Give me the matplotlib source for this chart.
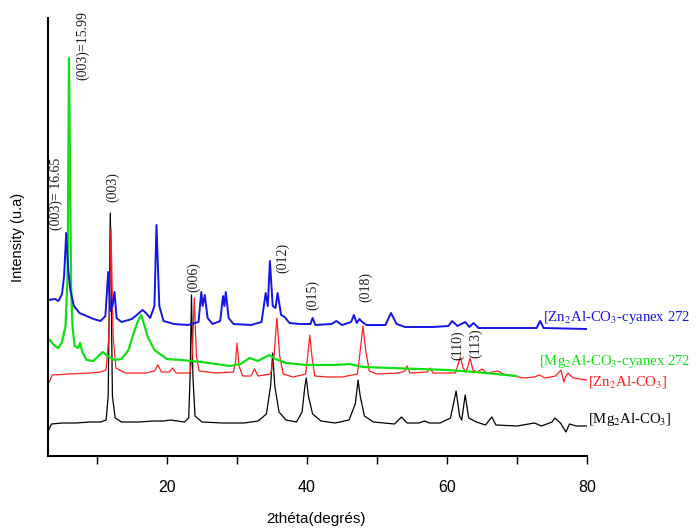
import matplotlib
matplotlib.use("Agg")
import matplotlib.pyplot as plt

# ==========================================
# DATA (2theta in degrees, intensity in a.u., offsets already included)
# ==========================================
mg_tt = [3.1, 3.5, 5, 7, 9, 10.5, 11.3, 11.6, 11.9, 12.2, 12.6, 13.5, 16, 18, 19.5,
         20.5, 21.5, 22.5, 23.1, 23.3, 23.5, 23.7, 24.0, 25, 28, 31, 33, 34.2, 34.8,
         35.1, 35.4, 36, 37, 38.5, 39.3, 39.7, 39.9, 40.2, 40.8, 42, 44, 46, 46.9,
         47.3, 47.6, 48.2, 49.5, 52.5, 53.5, 54.3, 56, 56.8, 57.5, 59, 60.5, 61.3,
         61.8, 62.1, 62.6, 63.1, 64.2, 65.5, 66.4, 67.0, 70, 72.5, 73.5, 75, 75.4,
         76.2, 77, 77.5, 78.5, 80]
mg_int = [26, 32, 33, 33, 34, 34, 36, 60, 243, 60, 38, 34, 34, 35, 35,
          36, 35, 34, 38, 80, 161, 80, 40, 34, 33, 33, 35, 42, 70,
          103, 70, 44, 36, 34, 44, 70, 78, 60, 42, 35, 33, 36, 52,
          76, 60, 40, 34, 32, 39, 33, 33, 35, 33, 33, 38, 65,
          40, 36, 61, 38, 34, 31, 39, 31, 30, 33, 30, 34, 38,
          33, 24, 32, 30, 30]

zn_tt = [3.2, 3.6, 6, 9, 10.5, 11.3, 11.7, 12.0, 12.3, 12.7, 14, 17, 18.2, 18.7, 19.2,
         20.3, 20.8, 21.3, 23.3, 23.6, 23.9, 24.2, 24.6, 27, 29.5, 29.8, 30.0, 30.3,
         30.8, 32, 32.5, 33, 34.8, 35.3, 35.7, 36.1, 36.6, 38, 39.8, 40.1, 40.4, 40.7,
         41.1, 43, 45, 47.2, 47.6, 48.0, 48.4, 48.9, 50, 53, 54.0, 54.3, 54.7, 57.2,
         57.6, 58, 61.2, 61.6, 61.9, 62.3, 62.7, 63.0, 63.3, 63.7, 64.3, 65.0, 65.7,
         67.3, 68, 71, 72.5, 73.2, 74, 75.5, 76.3, 76.7, 77.0, 77.3, 78, 80]
zn_int = [74, 81, 82, 83, 84, 86, 120, 228, 120, 88, 83, 83, 85, 91, 84,
          84, 88, 83, 83, 100, 158, 100, 85, 83, 84, 95, 113, 90,
          80, 80, 87, 80, 82, 100, 138, 100, 82, 79, 82, 100, 121, 100,
          80, 79, 79, 82, 105, 130, 105, 85, 82, 83, 85, 90, 83, 84,
          88, 83, 83, 92, 99, 88, 84, 90, 98, 86, 84, 87, 83,
          85, 82, 78, 79, 81, 78, 80, 86, 74, 80, 83, 78, 76]

mgcy_tt = [3.0, 4.0, 4.5, 5.0, 5.5, 5.8, 6.0, 6.3, 6.5, 6.8, 7.3, 7.6, 7.9, 8.5, 9.5,
           10.2, 10.8, 11.5, 12.5, 13.5, 14.5, 15.2, 15.8, 16.3, 16.8, 17.2, 18.2,
           19.0, 20, 22, 25, 27, 29, 30.5, 31.8, 33, 34.6, 35.5, 37, 40, 44, 46, 48,
           52, 56, 60, 64, 67, 69.9]
mgcy_int = [118, 110, 108, 114, 130, 180, 398, 170, 130, 110, 108, 113, 104, 96, 95,
            100, 104, 100, 96, 97, 106, 122, 134, 141, 130, 120, 106,
            102, 97, 96, 94, 92, 90, 92, 98, 95, 101, 97, 93, 91, 91, 92, 89,
            88, 87, 86, 84, 82, 80]

zncy_tt = [3.0, 4.0, 4.5, 5.0, 5.3, 5.6, 5.9, 6.2, 6.7, 7.5, 8.5, 9.5, 10.5, 11.2, 11.6,
           11.9, 12.2, 12.5, 12.8, 13.5, 15, 16.0, 16.5, 17.0, 17.6, 18.2, 18.5, 18.9,
           19.5, 21, 23, 24.5, 24.9, 25.1, 25.4, 25.8, 26.5, 27.6, 28.0, 28.2, 28.4,
           28.8, 29.5, 32, 33.5, 34.1, 34.4, 34.7, 35.1, 35.5, 35.8, 36.3, 36.8, 37.5,
           39, 40.5, 40.8, 41.2, 43.5, 44.2, 45, 46.3, 46.7, 47.1, 47.5, 47.9, 48.5,
           51.2, 52.0, 52.8, 54, 58, 60.2, 60.7, 61.5, 62.6, 63.2, 63.8, 64.5, 70,
           72.8, 73.3, 73.8, 80]
zncy_int = [156, 157, 155, 162, 180, 223, 185, 166, 150, 143, 140, 137, 135, 140, 184,
            145, 150, 164, 138, 134, 137, 143, 146, 143, 138, 150, 231, 150,
            135, 132, 131, 134, 164, 150, 161, 138, 132, 135, 160, 150, 164,
            138, 132, 131, 134, 163, 150, 195, 150, 148, 163, 141, 139, 133,
            132, 132, 138, 131, 132, 135, 131, 134, 141, 133, 137, 134, 131,
            131, 143, 132, 129, 129, 130, 135, 130, 134, 129, 133, 128, 128,
            128, 135, 128, 127]

# ==========================================
# PLOT
# ==========================================
plt.rcParams['mathtext.fontset'] = 'stix'
serif = ['Liberation Serif', 'DejaVu Serif']
sans = ['Liberation Sans', 'DejaVu Sans']

fig = plt.figure(figsize=(6.99, 5.28), dpi=100)
ax = fig.add_axes([48 / 699, 72 / 528, 539 / 699, 438 / 528])

# thicker lines for the noisy cyanex traces
ax.plot(mg_tt, mg_int, color='black', lw=0.9)
ax.plot(zn_tt, zn_int, color='#ff2020', lw=0.9)
ax.plot(mgcy_tt, mgcy_int, color='#10e010', lw=1.6)
ax.plot(zncy_tt, zncy_int, color='#1515e8', lw=1.4)

ax.set_xlim(3, 80)
ax.set_ylim(0, 438)
ax.spines['top'].set_visible(False)
ax.spines['right'].set_visible(False)
ax.spines['left'].set_linewidth(1.5)
ax.spines['bottom'].set_linewidth(1.5)
ax.set_yticks([])
ax.set_xticks([20, 40, 60, 80])
ax.set_xticks([10, 30, 50, 70], minor=True)
ax.tick_params(axis='x', which='both', direction='out', length=6, width=1, pad=11)
for lbl in ax.get_xticklabels():
    lbl.set_family(sans)
    lbl.set_fontsize(11.5)

fig.text(316 / 699, 1 - 519 / 528, '2théta(degrés)', family=sans, fontsize=11,
         ha='center', va='center')
fig.text(18 / 699, 1 - 237 / 528, 'Intensity (u.a)', family=sans, fontsize=10.5,
         rotation=90, ha='center', va='center')

# peak annotations (rotated)
peak_notes = [('(003)= 16.65', 4.17, 262), ('(003)=15.99', 7.97, 411),
              ('(003)', 12.17, 269), ('(006)', 23.83, 179), ('(012)', 36.54, 198),
              ('(015)', 40.83, 161), ('(018)', 48.36, 169), ('(110)', 61.46, 111),
              ('(113)', 64.03, 113)]
for txt, xx, yy in peak_notes:
    ax.text(xx, yy, txt, rotation=90, ha='center', va='center', family=serif,
            fontsize=10, color='#202020')

# series labels
lab_fs = 10.6
ax.text(73.7, 138, '[Zn$_2$Al-CO$_3$-cyanex 272', color='#1515e8', family=serif,
        fontsize=lab_fs, ha='left', va='center', clip_on=False)
ax.text(73.2, 94, '[Mg$_2$Al-CO$_3$-cyanex 272', color='#10e010', family=serif,
        fontsize=lab_fs, ha='left', va='center', clip_on=False)
ax.text(80.1, 74, '[Zn$_2$Al-CO$_3$]', color='#ff2020', family=serif,
        fontsize=lab_fs, ha='left', va='center', clip_on=False)
ax.text(80.1, 36, '[Mg$_2$Al-CO$_3$]', color='black', family=serif,
        fontsize=lab_fs, ha='left', va='center', clip_on=False)

plt.savefig('out.png', dpi=100)
plt.close()
